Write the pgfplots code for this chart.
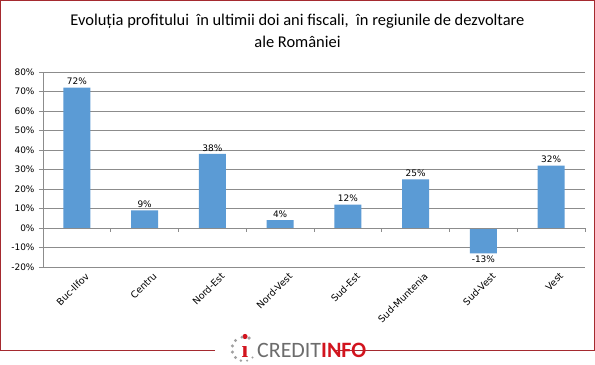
\documentclass[border=0pt]{standalone}
\usepackage{fontspec}
\setmainfont{Carlito}
\newfontfamily\tickfont{DejaVu Sans}
\newfontfamily\serifb{Liberation Serif}
\usepackage{pgfplots}
\pgfplotsset{compat=1.18}
\definecolor{barblue}{HTML}{5B9BD5}
\definecolor{framered}{HTML}{A52A2F}
\definecolor{logored}{HTML}{D2141E}
\definecolor{gridgray}{HTML}{8C8C8C}
\definecolor{logogray}{HTML}{A0A0A0}
\begin{document}
\begin{tikzpicture}
% canvas
\useasboundingbox[fill=white] (0,0) rectangle (595bp,365bp);
\begin{axis}[
  at={(43bp,98bp)}, anchor=south west,
  scale only axis, width=542bp, height=195bp,
  xmin=-0.5, xmax=7.5, ymin=-20, ymax=80,
  axis x line*=bottom,
  x axis line style={draw=none},
  axis y line*=left,
  y axis line style={draw=gridgray, line width=0.6pt},
  xtick={0,...,7},
  xticklabels={Buc-Ilfov,Centru,Nord-Est,Nord-Vest,Sud-Est,Sud-Muntenia,Sud-Vest,Vest},
  xtick style={draw=none},
  xticklabel style={rotate=45, anchor=north east, font=\tickfont\fontsize{9.5}{11}\selectfont, text=black, inner sep=1bp, xshift=6bp, yshift=-5bp},
  ytick={-20,-10,...,80},
  yticklabel={\pgfmathprintnumber{\tick}\%},
  yticklabel style={font=\tickfont\fontsize{9}{10}\selectfont, text=black, xshift=-1bp},
  ymajorgrids, grid style={gridgray, line width=0.6pt},
  major tick length=4bp,
  ytick style={gridgray, line width=0.6pt},
  ytick align=outside,
  /pgf/number format/assume math mode=true,
  ybar, bar width=27bp,
  nodes near coords={\pgfmathprintnumber{\pgfplotspointmeta}\%},
  nodes near coords align={vertical},
  every node near coord/.append style={font=\tickfont\fontsize{9}{10}\selectfont, text=black, inner sep=2.5bp},
  clip=false,
]
\addplot[fill=barblue, draw=none] coordinates {
 (0,72) (1,9) (2,38) (3,4) (4,12) (5,25) (6,-13) (7,32)};
% horizontal axis at zero with tick marks between categories
\draw[gridgray, line width=0.6pt] (axis cs:-0.5,0) -- (axis cs:7.5,0);
\pgfplotsinvokeforeach{0.5,1.5,2.5,3.5,4.5,5.5,6.5,7.5}{\draw[gridgray, line width=0.6pt] (axis cs:#1,0) -- ([yshift=-4bp]axis cs:#1,0);}
\end{axis}
% title
\node[align=center, font=\fontsize{16.5}{22}\selectfont] at (297.5bp,334bp)
  {Evoluția profitului \ în ultimii doi ani fiscali, \ în regiunile de dezvoltare\\ale României};
% frame
\draw[framered, line width=1pt] (215bp,15bp) -- (0.5bp,15bp) -- (0.5bp,364.5bp) -- (594.5bp,364.5bp) -- (594.5bp,15bp) -- (336bp,15bp);
% logo
\node[anchor=base west, inner sep=0pt, font=\fontsize{22}{22}\selectfont] at (257bp,8bp)
  {\textcolor{gray!85!black}{CREDIT}\textcolor{logored}{\bfseries INFO}};
\node[anchor=base, inner sep=0pt, font=\serifb\bfseries\fontsize{24}{24}\selectfont, text=logored] at (245bp,8bp) {ı};
\fill[logored] (245bp,28.5bp) circle (2.6bp);
\foreach \a/\r in {100/1.5,135/1.6,165/1.7,195/1.7,225/1.6,255/1.4,285/1.2,315/1.1,65/1.8} {
  \fill[logogray] ([shift={(\a:12bp)}]244bp,16bp) circle (\r bp);
}
\end{tikzpicture}
\end{document}
